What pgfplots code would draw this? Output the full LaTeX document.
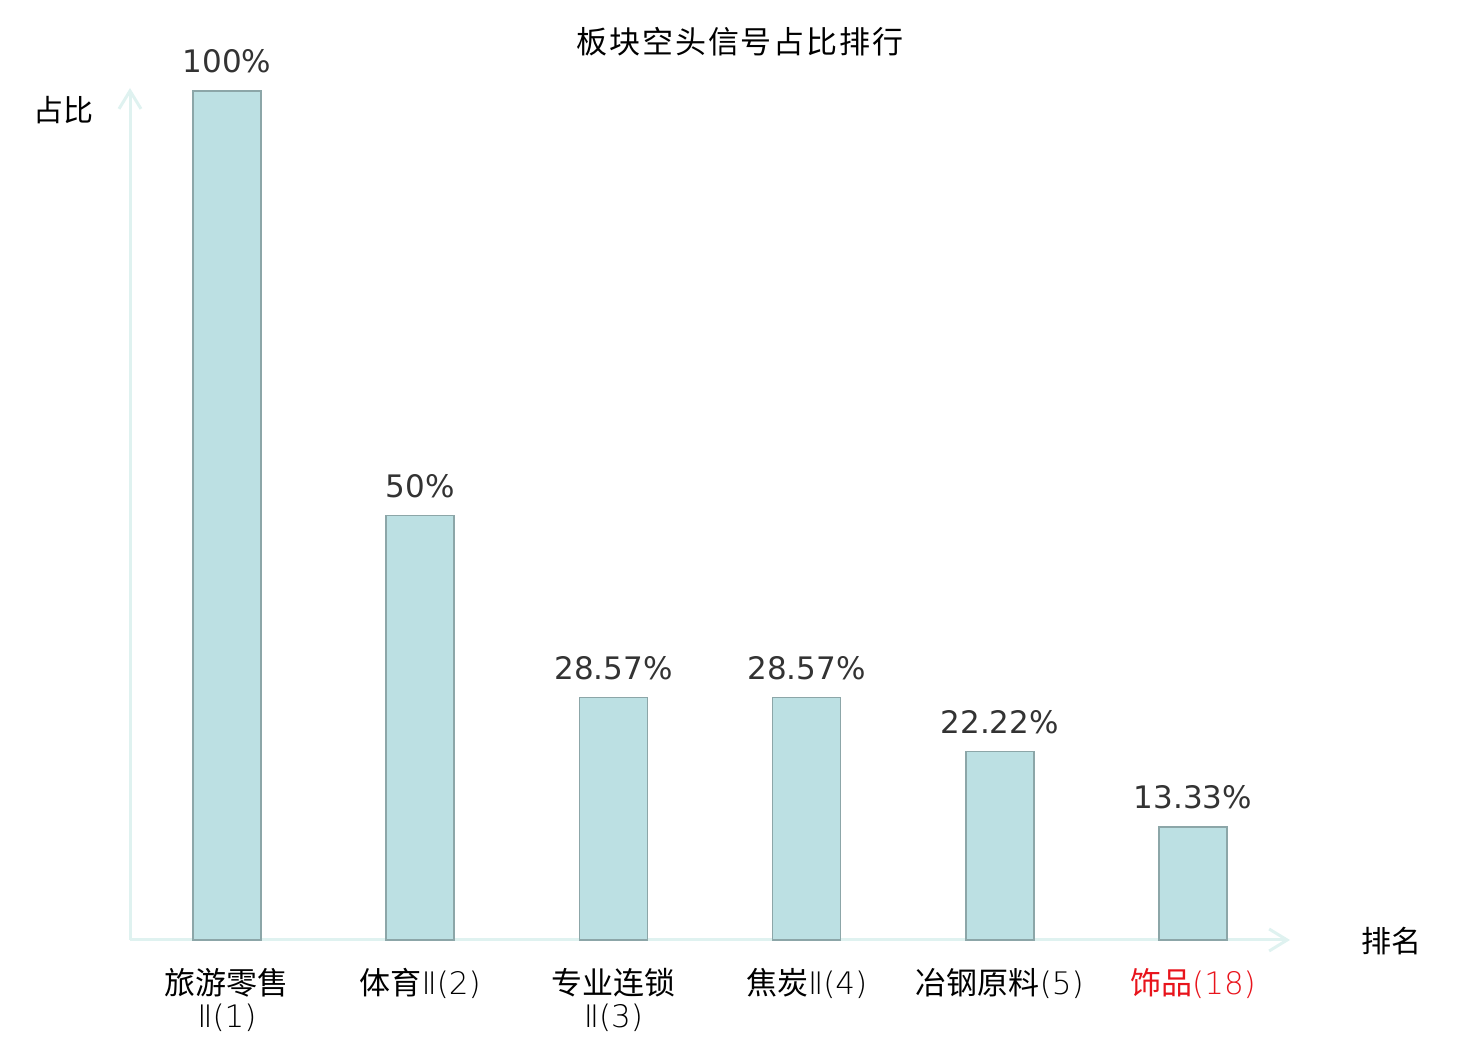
\documentclass[border=0pt]{standalone}
\usepackage{pgfplots}
\pgfplotsset{compat=1.18}
\usepackage{fontspec}
\setmainfont{DejaVu Sans}
\newfontfamily\cjk{Noto Sans CJK SC}
\newfontfamily\lat{DejaVu Sans ExtraLight}
\newfontfamily\cjktitle[LetterSpace=6]{Noto Sans CJK SC}
\usetikzlibrary{arrows.meta}
\definecolor{barfill}{HTML}{BCE0E3}
\definecolor{baredge}{HTML}{8CA6A8}
\definecolor{axiscol}{HTML}{DFF2F0}
\definecolor{valcol}{HTML}{333333}
\definecolor{lblred}{HTML}{E8141C}
\begin{document}
\begin{tikzpicture}
\path[use as bounding box] (0,0) rectangle (740pt,520pt);
\begin{axis}[
  at={(65pt,50pt)}, anchor=south west,
  scale only axis, width=580pt, height=426pt,
  xmin=-0.502, xmax=5.502, ymin=0, ymax=100.35,
  axis lines=left,
  axis line style={draw=axiscol, line width=1.5pt, -{Straight Barb[length=9pt,width=11pt]}},
  ytick=\empty,
  xtick=data,
  major tick length=0pt,
  xticklabels={{旅游零售\\{\lat Ⅱ(1)}},{体育{\lat Ⅱ(2)}},{专业连锁\\{\lat Ⅱ(3)}},{焦炭{\lat Ⅱ(4)}},{冶钢原料{\lat(5)}},{\textcolor{lblred}{饰品{\lat(18)}}}},
  xticklabel style={font=\cjk\fontsize{15.5}{16.5}\selectfont, align=center, anchor=north, inner sep=0pt, yshift=-14pt},
  ybar, bar width=34pt,
  point meta=explicit symbolic,
  nodes near coords={\pgfplotspointmeta},
  every node near coord/.append style={font=\fontsize{15.5}{18}\selectfont, text=valcol, anchor=base, inner sep=0pt, yshift=9pt},
  clip=false,
]
\addplot[fill=barfill, draw=baredge, line width=0.75pt] coordinates {
  (0,100) [100\%]
  (1,50) [50\%]
  (2,28.57) [28.57\%]
  (3,28.57) [28.57\%]
  (4,22.22) [22.22\%]
  (5,13.33) [13.33\%]
};
\end{axis}
\node[font=\cjktitle\fontsize{15.5}{18}\selectfont] at (370pt,499pt) {板块空头信号占比排行};
\node[font=\cjk\fontsize{15}{18}\selectfont] at (31.5pt,465pt) {占比};
\node[font=\cjk\fontsize{15}{18}\selectfont] at (695.5pt,49.5pt) {排名};
\end{tikzpicture}
\end{document}
